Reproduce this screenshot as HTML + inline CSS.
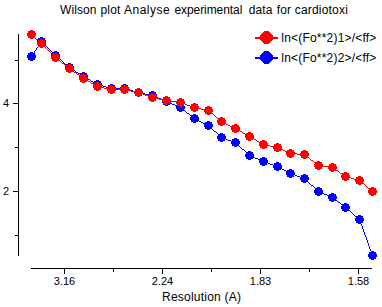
<!DOCTYPE html>
<html><head><meta charset="utf-8"><style>
html,body{margin:0;padding:0;background:#fff;}
svg{display:block;}
text{font-family:"Liberation Sans",sans-serif;fill:#000;}
</style></head><body>
<svg width="382" height="307" viewBox="0 0 382 307" xmlns="http://www.w3.org/2000/svg">

<rect width="382" height="307" fill="#fff"/>
<g>
<text y="14" font-size="12" letter-spacing="0.1"><tspan x="60">Wilson</tspan><tspan x="100.6">plot</tspan><tspan x="124" letter-spacing="0.5">Analyse</tspan><tspan x="174.5" letter-spacing="-0.08">experimental</tspan><tspan x="248.8">data</tspan><tspan x="276.8">for</tspan><tspan x="294.7" letter-spacing="0.2">cardiotoxi</tspan></text>
</g>
<path fill="#000" d="M18 34h1v222h-1zM15 60h3v1h-3zM15 147h3v1h-3zM15 235h3v1h-3zM13 103h5v1h-5zM13 191h5v1h-5zM31 268h341v1h-341zM64 269h1v5h-1zM162 269h1v5h-1zM260 269h1v5h-1zM358 269h1v5h-1zM113 269h1v3h-1zM211 269h1v3h-1zM309 269h1v3h-1z"/>
<g><text x="3" y="107" font-size="11">4</text>
<text x="3" y="195" font-size="11">2</text>
<text x="64.5" y="285" font-size="11" text-anchor="middle">3.16</text>
<text x="162.5" y="285" font-size="11" text-anchor="middle">2.24</text>
<text x="260.5" y="285" font-size="11" text-anchor="middle">1.83</text>
<text x="358.5" y="285" font-size="11" text-anchor="middle">1.58</text>
<text x="162" y="301" font-size="12" letter-spacing="0.23">Resolution (A)</text></g>
<path fill="#00f" d="M41 41h1v1h-1zM40 42h1v1h-1zM42 42h1v1h-1zM40 43h1v1h-1zM43 43h1v1h-1zM39 44h1v1h-1zM44 44h1v1h-1zM38 45h1v1h-1zM45 45h1v1h-1zM38 46h1v1h-1zM46 46h1v1h-1zM37 47h1v1h-1zM47 47h1v1h-1zM36 48h1v1h-1zM48 48h1v1h-1zM36 49h1v1h-1zM49 49h1v1h-1zM35 50h1v1h-1zM50 50h1v1h-1zM34 51h1v1h-1zM51 51h1v1h-1zM34 52h1v1h-1zM52 52h1v1h-1zM33 53h1v1h-1zM53 53h1v1h-1zM32 54h1v1h-1zM54 54h1v1h-1zM32 55h1v1h-1zM55 55h1v1h-1zM31 56h1v1h-1zM56 56h1v1h-1zM57 57h1v1h-1zM58 58h2v1h-2zM60 59h1v1h-1zM61 60h1v1h-1zM62 61h1v1h-1zM63 62h1v1h-1zM64 63h1v1h-1zM65 64h2v1h-2zM67 65h1v1h-1zM68 66h1v1h-1zM69 67h1v1h-1zM70 68h2v1h-2zM72 69h1v1h-1zM73 70h2v1h-2zM75 71h1v1h-1zM76 72h2v1h-2zM78 73h2v1h-2zM80 74h1v1h-1zM81 75h2v1h-2zM83 76h1v1h-1zM84 77h2v1h-2zM86 78h2v1h-2zM88 79h2v1h-2zM90 80h1v1h-1zM91 81h2v1h-2zM93 82h2v1h-2zM95 83h2v1h-2zM97 84h2v1h-2zM99 85h4v1h-4zM103 86h3v1h-3zM106 87h4v1h-4zM110 88h16v1h-16zM126 89h4v1h-4zM130 90h3v1h-3zM133 91h4v1h-4zM137 92h4v1h-4zM141 93h4v1h-4zM145 94h5v1h-5zM150 95h4v1h-4zM154 96h2v1h-2zM156 97h2v1h-2zM158 98h3v1h-3zM161 99h2v1h-2zM163 100h2v1h-2zM165 101h3v1h-3zM168 102h2v1h-2zM170 103h2v1h-2zM172 104h3v1h-3zM175 105h2v1h-2zM177 106h2v1h-2zM179 107h2v1h-2zM181 108h1v1h-1zM182 109h2v1h-2zM184 110h1v1h-1zM185 111h1v1h-1zM186 112h1v1h-1zM187 113h2v1h-2zM189 114h1v1h-1zM190 115h1v1h-1zM191 116h2v1h-2zM193 117h1v1h-1zM194 118h1v1h-1zM195 119h2v1h-2zM197 120h2v1h-2zM199 121h2v1h-2zM201 122h2v1h-2zM203 123h2v1h-2zM205 124h2v1h-2zM207 125h2v1h-2zM209 126h1v1h-1zM210 127h1v1h-1zM211 128h1v1h-1zM212 129h1v1h-1zM213 130h1v1h-1zM214 131h2v1h-2zM216 132h1v1h-1zM217 133h1v1h-1zM218 134h1v1h-1zM219 135h1v1h-1zM220 136h1v1h-1zM221 137h2v1h-2zM223 138h3v1h-3zM226 139h2v1h-2zM228 140h3v1h-3zM231 141h3v1h-3zM234 142h2v1h-2zM236 143h1v1h-1zM237 144h1v1h-1zM238 145h1v1h-1zM239 146h1v1h-1zM240 147h1v1h-1zM241 148h1v1h-1zM242 149h2v1h-2zM244 150h1v1h-1zM245 151h1v1h-1zM246 152h1v1h-1zM247 153h1v1h-1zM248 154h1v1h-1zM249 155h2v1h-2zM251 156h2v1h-2zM253 157h2v1h-2zM255 158h3v1h-3zM258 159h2v1h-2zM260 160h2v1h-2zM262 161h3v1h-3zM265 162h3v1h-3zM268 163h2v1h-2zM270 164h3v1h-3zM273 165h3v1h-3zM276 166h2v1h-2zM278 167h2v1h-2zM280 168h2v1h-2zM282 169h2v1h-2zM284 170h2v1h-2zM286 171h2v1h-2zM288 172h2v1h-2zM290 173h2v1h-2zM292 174h3v1h-3zM295 175h2v1h-2zM297 176h3v1h-3zM300 177h3v1h-3zM303 178h2v1h-2zM305 179h1v1h-1zM306 180h1v1h-1zM307 181h1v1h-1zM308 182h1v1h-1zM309 183h1v1h-1zM310 184h1v1h-1zM311 185h2v1h-2zM313 186h1v1h-1zM314 187h1v1h-1zM315 188h1v1h-1zM316 189h1v1h-1zM317 190h1v1h-1zM318 191h2v1h-2zM320 192h2v1h-2zM322 193h2v1h-2zM324 194h3v1h-3zM327 195h2v1h-2zM329 196h2v1h-2zM331 197h2v1h-2zM333 198h1v1h-1zM334 199h2v1h-2zM336 200h1v1h-1zM337 201h1v1h-1zM338 202h2v1h-2zM340 203h1v1h-1zM341 204h1v1h-1zM342 205h2v1h-2zM344 206h1v1h-1zM345 207h1v1h-1zM346 208h1v1h-1zM347 209h1v1h-1zM348 210h2v1h-2zM350 211h1v1h-1zM351 212h1v1h-1zM352 213h1v1h-1zM353 214h1v1h-1zM354 215h1v1h-1zM355 216h2v1h-2zM357 217h1v1h-1zM358 218h1v1h-1zM359 219h1v1h-1zM359 220h1v1h-1zM360 221h1v1h-1zM360 222h1v1h-1zM360 223h1v1h-1zM361 224h1v1h-1zM361 225h1v1h-1zM362 226h1v1h-1zM362 227h1v1h-1zM362 228h1v1h-1zM363 229h1v1h-1zM363 230h1v1h-1zM363 231h1v1h-1zM364 232h1v1h-1zM364 233h1v1h-1zM364 234h1v1h-1zM365 235h1v1h-1zM365 236h1v1h-1zM366 237h1v1h-1zM366 238h1v1h-1zM366 239h1v1h-1zM367 240h1v1h-1zM367 241h1v1h-1zM367 242h1v1h-1zM368 243h1v1h-1zM368 244h1v1h-1zM368 245h1v1h-1zM369 246h1v1h-1zM369 247h1v1h-1zM369 248h1v1h-1zM370 249h1v1h-1zM370 250h1v1h-1zM371 251h1v1h-1zM371 252h1v1h-1zM371 253h1v1h-1zM372 254h1v1h-1zM372 255h1v1h-1z"/>
<path fill="#00f" d="M30 52h3v1h2v2h1v3h-1v2h-2v1h-3v-1h-2v-2h-1v-3h1v-2h2zM40 37h3v1h2v2h1v3h-1v2h-2v1h-3v-1h-2v-2h-1v-3h1v-2h2zM54 51h3v1h2v2h1v3h-1v2h-2v1h-3v-1h-2v-2h-1v-3h1v-2h2zM68 63h3v1h2v2h1v3h-1v2h-2v1h-3v-1h-2v-2h-1v-3h1v-2h2zM82 72h3v1h2v2h1v3h-1v2h-2v1h-3v-1h-2v-2h-1v-3h1v-2h2zM96 80h3v1h2v2h1v3h-1v2h-2v1h-3v-1h-2v-2h-1v-3h1v-2h2zM110 84h3v1h2v2h1v3h-1v2h-2v1h-3v-1h-2v-2h-1v-3h1v-2h2zM123 84h3v1h2v2h1v3h-1v2h-2v1h-3v-1h-2v-2h-1v-3h1v-2h2zM137 88h3v1h2v2h1v3h-1v2h-2v1h-3v-1h-2v-2h-1v-3h1v-2h2zM151 91h3v1h2v2h1v3h-1v2h-2v1h-3v-1h-2v-2h-1v-3h1v-2h2zM165 97h3v1h2v2h1v3h-1v2h-2v1h-3v-1h-2v-2h-1v-3h1v-2h2zM179 103h3v1h2v2h1v3h-1v2h-2v1h-3v-1h-2v-2h-1v-3h1v-2h2zM193 114h3v1h2v2h1v3h-1v2h-2v1h-3v-1h-2v-2h-1v-3h1v-2h2zM207 121h3v1h2v2h1v3h-1v2h-2v1h-3v-1h-2v-2h-1v-3h1v-2h2zM220 133h3v1h2v2h1v3h-1v2h-2v1h-3v-1h-2v-2h-1v-3h1v-2h2zM234 138h3v1h2v2h1v3h-1v2h-2v1h-3v-1h-2v-2h-1v-3h1v-2h2zM248 151h3v1h2v2h1v3h-1v2h-2v1h-3v-1h-2v-2h-1v-3h1v-2h2zM262 157h3v1h2v2h1v3h-1v2h-2v1h-3v-1h-2v-2h-1v-3h1v-2h2zM276 162h3v1h2v2h1v3h-1v2h-2v1h-3v-1h-2v-2h-1v-3h1v-2h2zM289 169h3v1h2v2h1v3h-1v2h-2v1h-3v-1h-2v-2h-1v-3h1v-2h2zM303 174h3v1h2v2h1v3h-1v2h-2v1h-3v-1h-2v-2h-1v-3h1v-2h2zM317 187h3v1h2v2h1v3h-1v2h-2v1h-3v-1h-2v-2h-1v-3h1v-2h2zM331 193h3v1h2v2h1v3h-1v2h-2v1h-3v-1h-2v-2h-1v-3h1v-2h2zM344 203h3v1h2v2h1v3h-1v2h-2v1h-3v-1h-2v-2h-1v-3h1v-2h2zM358 215h3v1h2v2h1v3h-1v2h-2v1h-3v-1h-2v-2h-1v-3h1v-2h2zM371 251h3v1h2v2h1v3h-1v2h-2v1h-3v-1h-2v-2h-1v-3h1v-2h2z"/>
<path fill="#f00" d="M31 34h1v1h-1zM32 35h1v1h-1zM33 36h1v1h-1zM34 37h1v1h-1zM35 38h1v1h-1zM36 39h2v1h-2zM38 40h1v1h-1zM39 41h1v1h-1zM40 42h1v1h-1zM41 43h1v1h-1zM42 44h1v1h-1zM43 45h1v1h-1zM44 46h1v1h-1zM45 47h1v1h-1zM46 48h1v1h-1zM47 49h1v1h-1zM48 50h1v1h-1zM49 51h1v1h-1zM50 52h1v1h-1zM51 53h1v1h-1zM52 54h1v1h-1zM53 55h1v1h-1zM54 56h1v1h-1zM55 57h1v1h-1zM56 58h1v1h-1zM57 59h2v1h-2zM59 60h1v1h-1zM60 61h1v1h-1zM61 62h1v1h-1zM62 63h2v1h-2zM64 64h1v1h-1zM65 65h1v1h-1zM66 66h2v1h-2zM68 67h1v1h-1zM69 68h1v1h-1zM70 69h2v1h-2zM72 70h1v1h-1zM73 71h1v1h-1zM74 72h2v1h-2zM76 73h1v1h-1zM77 74h2v1h-2zM79 75h1v1h-1zM80 76h1v1h-1zM81 77h2v1h-2zM83 78h1v1h-1zM84 79h2v1h-2zM86 80h2v1h-2zM88 81h2v1h-2zM90 82h1v1h-1zM91 83h2v1h-2zM93 84h2v1h-2zM95 85h2v1h-2zM97 86h3v1h-3zM100 87h4v1h-4zM104 88h5v1h-5zM109 89h18v1h-18zM127 90h4v1h-4zM131 91h5v1h-5zM136 92h4v1h-4zM140 93h3v1h-3zM143 94h2v1h-2zM145 95h3v1h-3zM148 96h3v1h-3zM151 97h4v1h-4zM155 98h4v1h-4zM159 99h5v1h-5zM164 100h6v1h-6zM170 101h7v1h-7zM177 102h5v1h-5zM182 103h3v1h-3zM185 104h2v1h-2zM187 105h3v1h-3zM190 106h3v1h-3zM193 107h4v1h-4zM197 108h4v1h-4zM201 109h5v1h-5zM206 110h3v1h-3zM209 111h1v1h-1zM210 112h1v1h-1zM211 113h2v1h-2zM213 114h1v1h-1zM214 115h1v1h-1zM215 116h1v1h-1zM216 117h1v1h-1zM217 118h2v1h-2zM219 119h1v1h-1zM220 120h1v1h-1zM221 121h1v1h-1zM222 122h2v1h-2zM224 123h2v1h-2zM226 124h2v1h-2zM228 125h2v1h-2zM230 126h2v1h-2zM232 127h2v1h-2zM234 128h2v1h-2zM236 129h2v1h-2zM238 130h2v1h-2zM240 131h2v1h-2zM242 132h1v1h-1zM243 133h2v1h-2zM245 134h2v1h-2zM247 135h2v1h-2zM249 136h1v1h-1zM250 137h2v1h-2zM252 138h2v1h-2zM254 139h2v1h-2zM256 140h1v1h-1zM257 141h2v1h-2zM259 142h2v1h-2zM261 143h2v1h-2zM263 144h3v1h-3zM266 145h4v1h-4zM270 146h5v1h-5zM275 147h4v1h-4zM279 148h2v1h-2zM281 149h2v1h-2zM283 150h2v1h-2zM285 151h2v1h-2zM287 152h2v1h-2zM289 153h8v1h-8zM297 154h8v1h-8zM305 155h1v1h-1zM306 156h2v1h-2zM308 157h1v1h-1zM309 158h1v1h-1zM310 159h1v1h-1zM311 160h2v1h-2zM313 161h1v1h-1zM314 162h1v1h-1zM315 163h2v1h-2zM317 164h1v1h-1zM318 165h4v1h-4zM322 166h7v1h-7zM329 167h4v1h-4zM333 168h2v1h-2zM335 169h1v1h-1zM336 170h2v1h-2zM338 171h1v1h-1zM339 172h1v1h-1zM340 173h2v1h-2zM342 174h1v1h-1zM343 175h2v1h-2zM345 176h2v1h-2zM347 177h4v1h-4zM351 178h3v1h-3zM354 179h4v1h-4zM358 180h2v1h-2zM360 181h1v1h-1zM361 182h1v1h-1zM362 183h2v1h-2zM364 184h1v1h-1zM365 185h1v1h-1zM366 186h1v1h-1zM367 187h1v1h-1zM368 188h2v1h-2zM370 189h1v1h-1zM371 190h1v1h-1zM372 191h1v1h-1z"/>
<path fill="#f00" d="M30 30h3v1h2v2h1v3h-1v2h-2v1h-3v-1h-2v-2h-1v-3h1v-2h2zM40 39h3v1h2v2h1v3h-1v2h-2v1h-3v-1h-2v-2h-1v-3h1v-2h2zM54 53h3v1h2v2h1v3h-1v2h-2v1h-3v-1h-2v-2h-1v-3h1v-2h2zM68 64h3v1h2v2h1v3h-1v2h-2v1h-3v-1h-2v-2h-1v-3h1v-2h2zM82 74h3v1h2v2h1v3h-1v2h-2v1h-3v-1h-2v-2h-1v-3h1v-2h2zM96 82h3v1h2v2h1v3h-1v2h-2v1h-3v-1h-2v-2h-1v-3h1v-2h2zM110 85h3v1h2v2h1v3h-1v2h-2v1h-3v-1h-2v-2h-1v-3h1v-2h2zM123 85h3v1h2v2h1v3h-1v2h-2v1h-3v-1h-2v-2h-1v-3h1v-2h2zM137 88h3v1h2v2h1v3h-1v2h-2v1h-3v-1h-2v-2h-1v-3h1v-2h2zM151 93h3v1h2v2h1v3h-1v2h-2v1h-3v-1h-2v-2h-1v-3h1v-2h2zM165 96h3v1h2v2h1v3h-1v2h-2v1h-3v-1h-2v-2h-1v-3h1v-2h2zM179 98h3v1h2v2h1v3h-1v2h-2v1h-3v-1h-2v-2h-1v-3h1v-2h2zM193 103h3v1h2v2h1v3h-1v2h-2v1h-3v-1h-2v-2h-1v-3h1v-2h2zM207 106h3v1h2v2h1v3h-1v2h-2v1h-3v-1h-2v-2h-1v-3h1v-2h2zM220 117h3v1h2v2h1v3h-1v2h-2v1h-3v-1h-2v-2h-1v-3h1v-2h2zM234 124h3v1h2v2h1v3h-1v2h-2v1h-3v-1h-2v-2h-1v-3h1v-2h2zM248 132h3v1h2v2h1v3h-1v2h-2v1h-3v-1h-2v-2h-1v-3h1v-2h2zM262 140h3v1h2v2h1v3h-1v2h-2v1h-3v-1h-2v-2h-1v-3h1v-2h2zM276 143h3v1h2v2h1v3h-1v2h-2v1h-3v-1h-2v-2h-1v-3h1v-2h2zM289 149h3v1h2v2h1v3h-1v2h-2v1h-3v-1h-2v-2h-1v-3h1v-2h2zM303 150h3v1h2v2h1v3h-1v2h-2v1h-3v-1h-2v-2h-1v-3h1v-2h2zM317 161h3v1h2v2h1v3h-1v2h-2v1h-3v-1h-2v-2h-1v-3h1v-2h2zM331 163h3v1h2v2h1v3h-1v2h-2v1h-3v-1h-2v-2h-1v-3h1v-2h2zM344 172h3v1h2v2h1v3h-1v2h-2v1h-3v-1h-2v-2h-1v-3h1v-2h2zM358 176h3v1h2v2h1v3h-1v2h-2v1h-3v-1h-2v-2h-1v-3h1v-2h2zM371 187h3v1h2v2h1v3h-1v2h-2v1h-3v-1h-2v-2h-1v-3h1v-2h2z"/>
<path fill="#f00" d="M255 37h23v2h-23zM264 31h5v1h1v1h1v1h1v1h1v5h-1v1h-1v1h-1v1h-1v1h-5v-1h-1v-1h-1v-1h-1v-1h-1v-5h1v-1h1v-1h1v-1h1z"/>
<path fill="#00f" d="M255 57h23v2h-23zM264 51h5v1h1v1h1v1h1v1h1v5h-1v1h-1v1h-1v1h-1v1h-5v-1h-1v-1h-1v-1h-1v-1h-1v-5h1v-1h1v-1h1v-1h1z"/>
<g><text x="281.3" y="42" font-size="12" letter-spacing="0.2">ln&lt;(Fo**2)1&gt;/&lt;ff&gt;</text>
<text x="281.3" y="62" font-size="12" letter-spacing="0.2">ln&lt;(Fo**2)2&gt;/&lt;ff&gt;</text></g>
</svg>
</body></html>
